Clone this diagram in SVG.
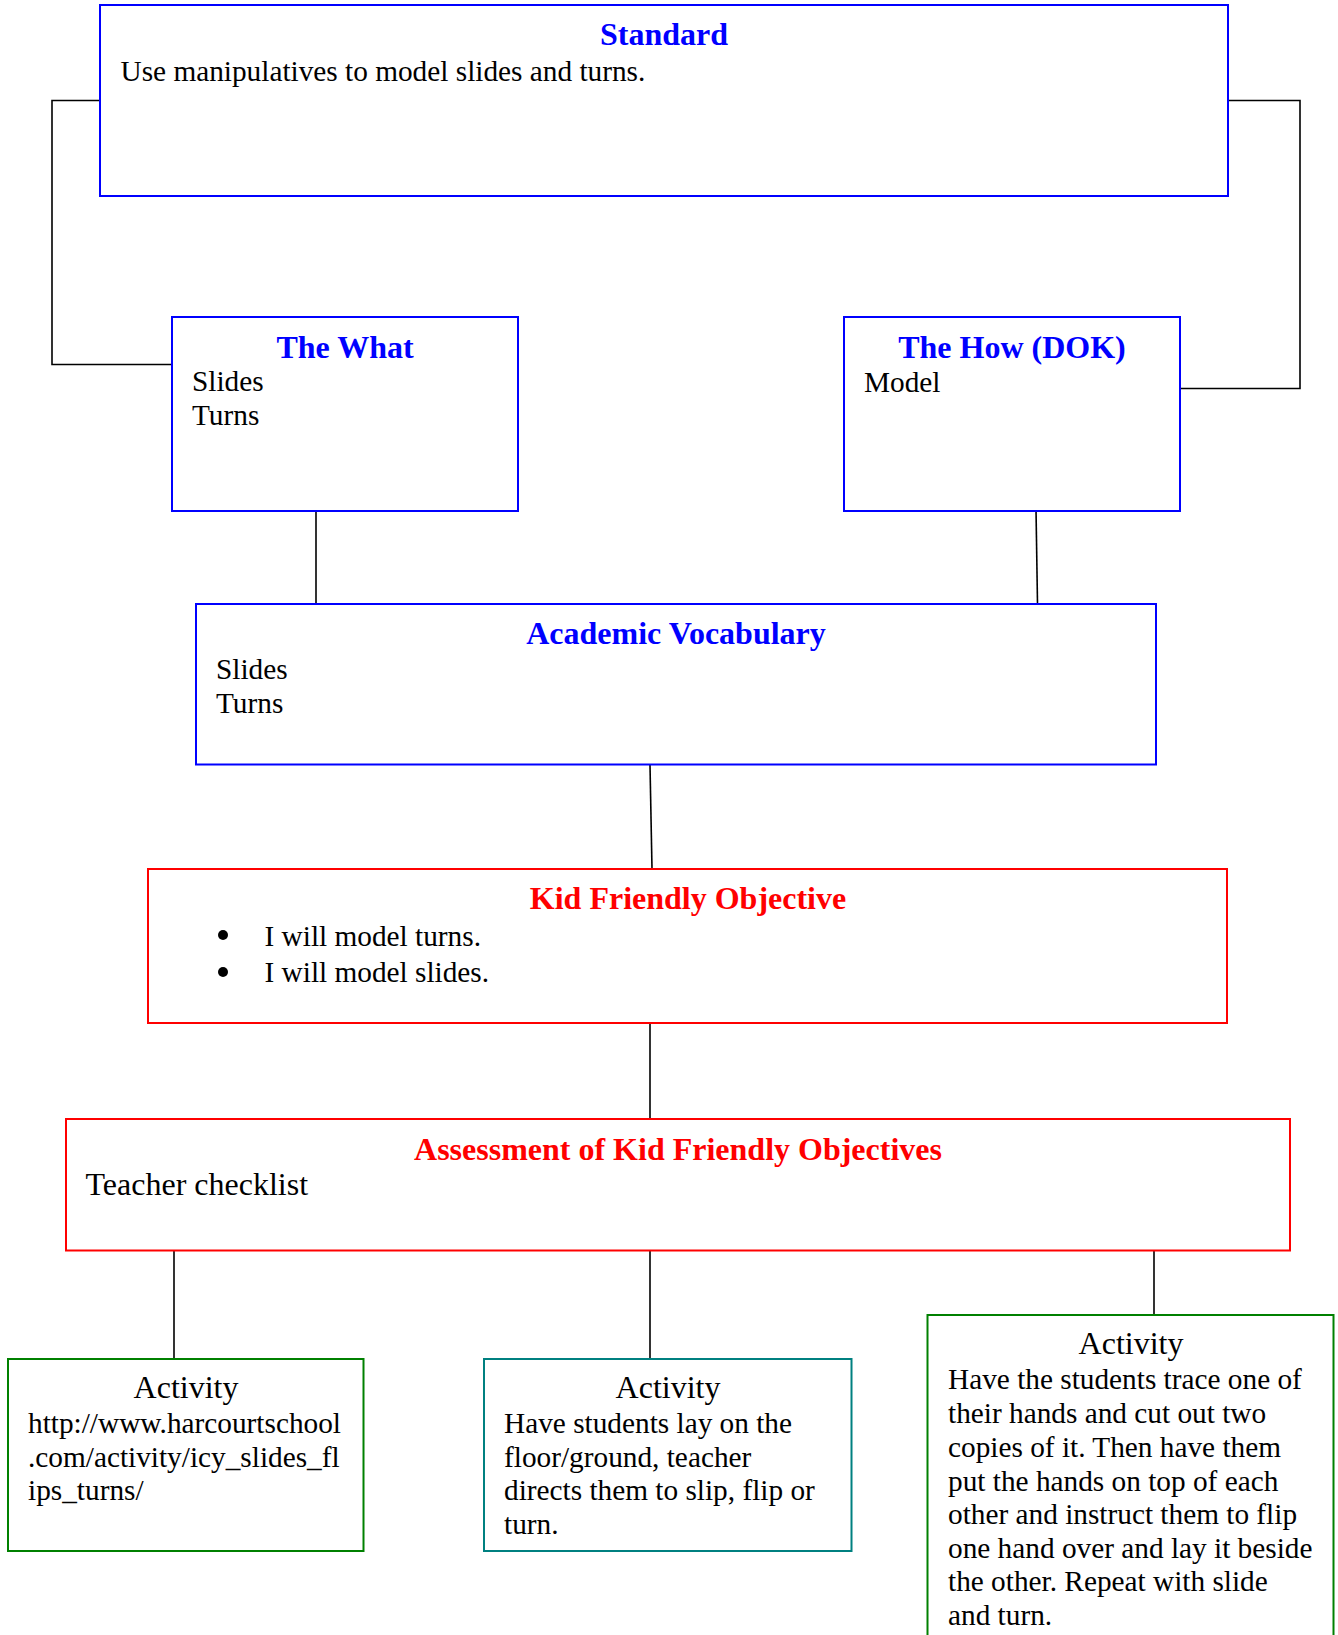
<svg xmlns="http://www.w3.org/2000/svg" width="1338" height="1635" viewBox="0 0 1338 1635">
<style>
.box{fill:#fff;stroke-width:2}
.blue{stroke:#0000ff}
.red{stroke:#ff0000}
.green{stroke:#008000}
.teal{stroke:#008080}
.conn{fill:none;stroke:#000;stroke-width:1.6}
.t{font-family:"Liberation Serif","Times New Roman",serif}
.h{font-size:32px;font-weight:bold;text-anchor:middle}
.hb{fill:#0000ff}
.hr{fill:#ff0000}
.b{font-size:29.3px;fill:#000}
.a{font-size:32px;fill:#000;text-anchor:middle}
</style>
<rect width="1338" height="1635" fill="#fff"/>
<g id="connectors">
<polyline class="conn" points="100,100.5 52,100.5 52,364.5 172,364.5"/>
<polyline class="conn" points="1228,100.5 1300,100.5 1300,388.5 1180,388.5"/>
<line class="conn" x1="316" y1="509" x2="316" y2="604"/>
<line class="conn" x1="1036" y1="509" x2="1037.5" y2="604"/>
<line class="conn" x1="650" y1="765" x2="652" y2="869"/>
<line class="conn" x1="650" y1="1023" x2="650" y2="1119"/>
<line class="conn" x1="174" y1="1251" x2="174" y2="1359"/>
<line class="conn" x1="650" y1="1251" x2="650" y2="1359"/>
<line class="conn" x1="1154" y1="1251" x2="1154" y2="1315"/>
</g>
<g id="standard">
<rect class="box blue" x="100" y="5" width="1128" height="191"/>
<text class="t h hb" x="664" y="45">Standard</text>
<text class="t b" x="120.5" y="80.5">Use manipulatives to model slides and turns.</text>
</g>
<g id="the-what">
<rect class="box blue" x="172" y="317" width="346" height="194"/>
<text class="t h hb" x="345" y="357.5">The What</text>
<text class="t b" x="192" y="391">Slides</text>
<text class="t b" x="192" y="425">Turns</text>
</g>
<g id="the-how">
<rect class="box blue" x="844" y="317" width="336" height="194"/>
<text class="t h hb" x="1012" y="357.5">The How (DOK)</text>
<text class="t b" x="864" y="391.5">Model</text>
</g>
<g id="academic-vocabulary">
<rect class="box blue" x="196" y="604" width="960" height="160.5"/>
<text class="t h hb" x="676" y="644">Academic Vocabulary</text>
<text class="t b" x="216" y="678.5">Slides</text>
<text class="t b" x="216" y="712.5">Turns</text>
</g>
<g id="kid-friendly-objective">
<rect class="box red" x="148" y="869" width="1079" height="154"/>
<text class="t h hr" x="688" y="909">Kid Friendly Objective</text>
<circle cx="223" cy="935" r="5"/>
<text class="t b" x="264.5" y="945.5">I will model turns.</text>
<circle cx="223" cy="972" r="5"/>
<text class="t b" x="264.5" y="982">I will model slides.</text>
</g>
<g id="assessment">
<rect class="box red" x="66" y="1119" width="1224" height="131.5"/>
<text class="t h hr" x="678" y="1159.5">Assessment of Kid Friendly Objectives</text>
<text class="t a" x="85.5" y="1195" style="text-anchor:start">Teacher checklist</text>
</g>
<g id="activity-1">
<rect class="box green" x="8" y="1359" width="355.5" height="192"/>
<text class="t a" x="186" y="1398">Activity</text>
<text class="t b" x="28" y="1433">http://www.harcourtschool</text>
<text class="t b" x="28" y="1467">.com/activity/icy_slides_fl</text>
<text class="t b" x="28" y="1500">ips_turns/</text>
</g>
<g id="activity-2">
<rect class="box teal" x="484" y="1359" width="367.5" height="192"/>
<text class="t a" x="668" y="1398">Activity</text>
<text class="t b" x="504" y="1433">Have students lay on the</text>
<text class="t b" x="504" y="1467">floor/ground, teacher</text>
<text class="t b" x="504" y="1500">directs them to slip, flip or</text>
<text class="t b" x="504" y="1534">turn.</text>
</g>
<g id="activity-3">
<rect class="box green" x="927.5" y="1315" width="406" height="340"/>
<text class="t a" x="1131" y="1354">Activity</text>
<text class="t b" x="948" y="1389">Have the students trace one of</text>
<text class="t b" x="948" y="1423">their hands and cut out two</text>
<text class="t b" x="948" y="1456.5">copies of it. Then have them</text>
<text class="t b" x="948" y="1490.5">put the hands on top of each</text>
<text class="t b" x="948" y="1524">other and instruct them to flip</text>
<text class="t b" x="948" y="1557.5">one hand over and lay it beside</text>
<text class="t b" x="948" y="1591">the other. Repeat with slide</text>
<text class="t b" x="948" y="1624.5">and turn.</text>
</g>
</svg>
